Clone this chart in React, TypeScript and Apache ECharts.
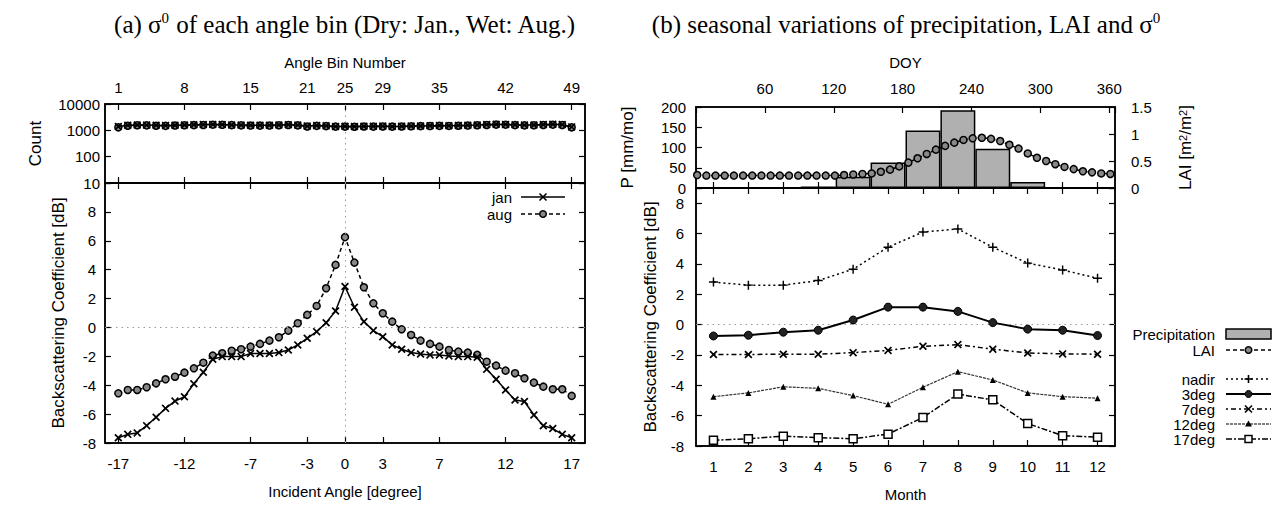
import React, { useEffect, useRef } from "react";
import * as echarts from "echarts";

const SANS = '"Liberation Sans", Arial, Helvetica, sans-serif';
const SERIF = '"Liberation Serif", "Times New Roman", serif';

// ---------- Panel (a) data ----------
const binNumbers = [
  1, 2, 3, 4, 5, 6, 7, 8, 9, 10, 11, 12, 13, 14, 15, 16, 17, 18, 19, 20, 21, 22, 23, 24, 25,
  26, 27, 28, 29, 30, 31, 32, 33, 34, 35, 36, 37, 38, 39, 40, 41, 42, 43, 44, 45, 46, 47, 48, 49,
];
const binTicks = [1, 8, 15, 21, 25, 29, 35, 42, 49];
const angleTickLabels = ["-17", "-12", "-7", "-3", "0", "3", "7", "12", "17"];
const countJan = [
  1400, 1550, 1600, 1580, 1550, 1520, 1560, 1600, 1620, 1650, 1680, 1650, 1600, 1580, 1560, 1550, 1560,
  1600, 1640, 1580, 1450, 1520, 1480, 1400, 1420, 1400, 1430, 1420, 1450, 1400, 1420, 1450, 1470, 1500,
  1520, 1500, 1540, 1560, 1600, 1650, 1700, 1680, 1620, 1580, 1600, 1650, 1700, 1650, 1350,
];
const countAug = [
  1300, 1500, 1560, 1540, 1500, 1480, 1520, 1560, 1580, 1600, 1640, 1620, 1580, 1540, 1520, 1510, 1520,
  1560, 1600, 1540, 1400, 1480, 1450, 1380, 1380, 1370, 1400, 1380, 1400, 1380, 1400, 1420, 1440, 1460,
  1480, 1470, 1500, 1520, 1560, 1600, 1650, 1640, 1580, 1540, 1560, 1600, 1640, 1600, 1300,
];
const sigmaJan = [
  -7.64, -7.4, -7.3, -6.8, -6.22, -5.6, -5.1, -4.8, -3.9, -3.1, -2.2, -2.02, -2.02, -2.02, -1.8, -1.8, -1.8,
  -1.74, -1.56, -1.21, -0.75, -0.29, 0.33, 1.14, 2.83,
  1.4, 0.4, -0.22, -0.64, -1.21, -1.51, -1.74, -1.84, -1.9, -1.9, -1.97, -2.02, -2.02, -2.06, -2.9, -3.59,
  -4.33, -5.02, -5.13, -6.06, -6.81, -7.0, -7.4, -7.64,
];
const sigmaAug = [
  -4.56, -4.33, -4.33, -4.14, -3.87, -3.59, -3.41, -3.13, -2.83, -2.44, -1.95, -1.79, -1.61, -1.51, -1.33,
  -1.14, -0.91, -0.68, -0.22, 0.29, 0.87, 1.49, 2.71, 4.33, 6.25,
  4.49, 2.78, 1.67, 0.98, 0.4, -0.13, -0.52, -0.91, -1.14, -1.33, -1.56, -1.67, -1.74, -1.9, -2.37, -2.64,
  -2.99, -3.17, -3.52, -3.82, -4.1, -4.28, -4.28, -4.74,
];

// ---------- Panel (b) data ----------
const months = ["1", "2", "3", "4", "5", "6", "7", "8", "9", "10", "11", "12"];
const precipitation = [0, 0, 0, 4, 28, 63, 142, 192, 97, 15, 0, 0];
const laiDoy = [
  1, 9, 17, 25, 33, 41, 49, 57, 65, 73, 81, 89, 97, 105, 113, 121, 129, 137, 145, 153, 161, 169, 177, 185,
  193, 201, 209, 217, 225, 233, 241, 249, 257, 265, 273, 281, 289, 297, 305, 313, 321, 329, 337, 345, 353, 361,
];
const laiValues = [
  0.24, 0.23, 0.23, 0.23, 0.23, 0.23, 0.23, 0.23, 0.23, 0.23, 0.23, 0.23, 0.23, 0.23, 0.23, 0.23, 0.24,
  0.25, 0.26, 0.27, 0.3, 0.34, 0.4, 0.47, 0.55, 0.63, 0.71, 0.78, 0.84, 0.89, 0.92, 0.93, 0.91, 0.87, 0.8,
  0.73, 0.64, 0.56, 0.5, 0.44, 0.39, 0.35, 0.31, 0.29, 0.27, 0.26,
];
const sigmaNadir = [2.8, 2.6, 2.6, 2.9, 3.65, 5.1, 6.1, 6.3, 5.1, 4.05, 3.6, 3.05];
const sigma3deg = [-0.75, -0.7, -0.5, -0.37, 0.3, 1.15, 1.15, 0.87, 0.13, -0.3, -0.37, -0.72];
const sigma7deg = [-1.97, -1.97, -1.95, -1.95, -1.85, -1.7, -1.43, -1.32, -1.62, -1.87, -1.93, -1.95];
const sigma12deg = [-4.75, -4.5, -4.1, -4.2, -4.68, -5.25, -4.13, -3.1, -3.65, -4.5, -4.75, -4.85];
const sigma17deg = [-7.62, -7.52, -7.35, -7.45, -7.52, -7.22, -6.12, -4.58, -4.96, -6.52, -7.32, -7.42];

// ---------- styling helpers ----------
const X_MARK = "path://M0,1.5L1.5,0L5,3.5L8.5,0L10,1.5L6.5,5L10,8.5L8.5,10L5,6.5L1.5,10L0,8.5L3.5,5Z";
const PLUS_MARK = "path://M4.2,0H5.8V4.2H10V5.8H5.8V10H4.2V5.8H0V4.2H4.2Z";

const labelStyle = { fontFamily: SANS, fontSize: 15, color: "#000" };
const nameStyle = { fontFamily: SANS, fontSize: 15, color: "#000" };
const vNameStyle = { fontFamily: SANS, fontSize: 17, color: "#000" };
const axisLine = { show: true, onZero: false, lineStyle: { color: "#000", width: 1.5 } };
const tick = (extra: any = {}) => ({ show: true, inside: true, length: 6, lineStyle: { color: "#000", width: 1.2 }, ...extra });

function legendItem(textRight: number, y: number, label: string, x1: number, x2: number, dash: any, lw: number, mk: string): any[] {
  const els: any[] = [
    {
      type: "text",
      x: textRight,
      y,
      style: { text: label, fontFamily: SANS, fontSize: 15, fill: "#000", align: "right", verticalAlign: "middle" },
    },
  ];
  const cx = (x1 + x2) / 2;
  if (mk === "box") {
    els.push({ type: "rect", shape: { x: x1, y: y - 5, width: x2 - x1, height: 10 }, style: { fill: "#b0b0b0", stroke: "#000", lineWidth: 1.5 } });
    return els;
  }
  els.push({ type: "line", shape: { x1, y1: y, x2, y2: y }, style: { stroke: "#000", lineWidth: lw, lineDash: dash } });
  if (mk === "x") {
    els.push({ type: "line", shape: { x1: cx - 3.5, y1: y - 3.5, x2: cx + 3.5, y2: y + 3.5 }, style: { stroke: "#000", lineWidth: 1.6 } });
    els.push({ type: "line", shape: { x1: cx - 3.5, y1: y + 3.5, x2: cx + 3.5, y2: y - 3.5 }, style: { stroke: "#000", lineWidth: 1.6 } });
  } else if (mk === "plus") {
    els.push({ type: "line", shape: { x1: cx - 4, y1: y, x2: cx + 4, y2: y }, style: { stroke: "#000", lineWidth: 1.6 } });
    els.push({ type: "line", shape: { x1: cx, y1: y - 4, x2: cx, y2: y + 4 }, style: { stroke: "#000", lineWidth: 1.6 } });
  } else if (mk === "circle") {
    els.push({ type: "circle", shape: { cx, cy: y, r: 3.3 }, style: { fill: "#888", stroke: "#000", lineWidth: 1.5 } });
  } else if (mk === "dot") {
    els.push({ type: "circle", shape: { cx, cy: y, r: 3.5 }, style: { fill: "#222", stroke: "#000", lineWidth: 1 } });
  } else if (mk === "triangle") {
    els.push({ type: "polygon", shape: { points: [[cx, y - 3.5], [cx + 3.5, y + 2.5], [cx - 3.5, y + 2.5]] }, style: { fill: "#000" } });
  } else if (mk === "square") {
    els.push({ type: "rect", shape: { x: cx - 3.5, y: y - 3.5, width: 7, height: 7 }, style: { fill: "#fff", stroke: "#000", lineWidth: 1.5 } });
  }
  return els;
}

const gridBox = { show: true, borderColor: "#000", borderWidth: 1.5, backgroundColor: "transparent", containLabel: false };

function buildOption(): any {
  const binRange = { min: -0.41, max: 50.41 };
  const angleMap: Record<number, string> = {};
  binTicks.forEach((b, i) => (angleMap[b] = angleTickLabels[i]));

  const dottedMark = (data: any[]) => ({
    silent: true,
    symbol: ["none", "none"],
    label: { show: false },
    lineStyle: { type: [1.5, 4], color: "#999", width: 1 },
    data,
  });

  const xAxis: any[] = [
    // 0: A1 top - bin number
    {
      gridIndex: 0, type: "value", position: "top", ...binRange,
      name: "Angle Bin Number", nameLocation: "middle", nameGap: 34, nameTextStyle: nameStyle,
      axisLine, splitLine: { show: false },
      axisTick: tick({ customValues: binTicks }),
      axisLabel: { ...labelStyle, margin: 9, customValues: binTicks, formatter: (v: number) => String(v) },
    },
    // 1: A1 bottom mirror
    {
      gridIndex: 0, type: "value", position: "bottom", ...binRange,
      axisLine, splitLine: { show: false },
      axisTick: tick({ customValues: binTicks }), axisLabel: { show: false },
    },
    // 2: A2 bottom - incident angle
    {
      gridIndex: 1, type: "value", position: "bottom", ...binRange,
      name: "Incident Angle [degree]", nameLocation: "middle", nameGap: 41, nameTextStyle: nameStyle,
      axisLine, splitLine: { show: false },
      axisTick: tick({ customValues: binTicks }),
      axisLabel: { ...labelStyle, margin: 13, customValues: binTicks, formatter: (v: number) => angleMap[v] ?? "" },
    },
    // 3: A2 top mirror
    {
      gridIndex: 1, type: "value", position: "top", ...binRange,
      axisLine, splitLine: { show: false },
      axisTick: tick({ customValues: binTicks }), axisLabel: { show: false },
    },
    // 4: B1 bottom months (for bars)
    {
      gridIndex: 2, type: "category", position: "bottom", data: months, boundaryGap: true,
      axisLine, axisTick: tick({ alignWithLabel: true }), axisLabel: { show: false }, splitLine: { show: false },
    },
    // 5: B1 top DOY
    {
      gridIndex: 2, type: "value", position: "top", min: 0, max: 365, interval: 60,
      name: "DOY", nameLocation: "middle", nameGap: 37, nameTextStyle: nameStyle,
      axisLine, splitLine: { show: false }, axisTick: tick(),
      axisLabel: { ...labelStyle, margin: 11, formatter: (v: number) => (v === 0 || v > 360 ? "" : String(v)) },
    },
    // 6: B2 bottom months
    {
      gridIndex: 3, type: "category", position: "bottom", data: months, boundaryGap: true,
      name: "Month", nameLocation: "middle", nameGap: 41, nameTextStyle: nameStyle,
      axisLine, axisTick: tick({ alignWithLabel: true }), axisLabel: { ...labelStyle, margin: 13 }, splitLine: { show: false },
    },
    // 7: B2 top mirror
    {
      gridIndex: 3, type: "category", position: "top", data: months, boundaryGap: true,
      axisLine, axisTick: tick({ alignWithLabel: true }), axisLabel: { show: false }, splitLine: { show: false },
    },
  ];

  const yAxis: any[] = [
    // 0: A1 left log count
    {
      gridIndex: 0, type: "log", logBase: 10, min: 10, max: 10000, position: "left",
      name: "Count", nameLocation: "middle", nameRotate: 90, nameGap: 61, nameTextStyle: vNameStyle,
      axisLine, splitLine: { show: false }, axisTick: tick(),
      axisLabel: { ...labelStyle, margin: 5, formatter: (v: number) => String(Math.round(v)) },
    },
    // 1: A1 right mirror
    {
      gridIndex: 0, type: "log", logBase: 10, min: 10, max: 10000, position: "right",
      axisLine, splitLine: { show: false }, axisTick: tick(), axisLabel: { show: false },
    },
    // 2: A2 left sigma
    {
      gridIndex: 1, type: "value", min: -8, max: 10, interval: 2, position: "left",
      name: "Backscattering Coefficient [dB]", nameLocation: "middle", nameRotate: 90, nameGap: 38, nameTextStyle: vNameStyle,
      axisLine, splitLine: { show: false }, axisTick: tick(),
      axisLabel: { ...labelStyle, margin: 9, formatter: (v: number) => (v >= 10 ? "" : String(v)) },
    },
    // 3: A2 right mirror
    {
      gridIndex: 1, type: "value", min: -8, max: 10, interval: 2, position: "right",
      axisLine, splitLine: { show: false }, axisTick: tick(), axisLabel: { show: false },
    },
    // 4: B1 left precipitation
    {
      gridIndex: 2, type: "value", min: 0, max: 200, interval: 50, position: "left",
      name: "P [mm/mo]", nameLocation: "middle", nameRotate: 90, nameGap: 60, nameTextStyle: vNameStyle,
      axisLine, splitLine: { show: false }, axisTick: tick(),
      axisLabel: { ...labelStyle, margin: 10 },
    },
    // 5: B1 right LAI
    {
      gridIndex: 2, type: "value", min: 0, max: 1.5, interval: 0.5, position: "right",
      name: "LAI [m{sup|2}/m{sup|2}]", nameLocation: "middle", nameRotate: 90, nameGap: 62,
      nameTextStyle: { ...vNameStyle, rich: { sup: { fontFamily: SANS, fontSize: 11, verticalAlign: "top", color: "#000" } } },
      axisLine, splitLine: { show: false }, axisTick: tick(),
      axisLabel: { ...labelStyle, margin: 16, formatter: (v: number) => String(v) },
    },
    // 6: B2 left sigma
    {
      gridIndex: 3, type: "value", min: -8, max: 9, interval: 2, position: "left",
      name: "Backscattering Coefficient [dB]", nameLocation: "middle", nameRotate: 90, nameGap: 37, nameTextStyle: vNameStyle,
      axisLine, splitLine: { show: false }, axisTick: tick(),
      axisLabel: { ...labelStyle, margin: 12, formatter: (v: number) => (v > 8 ? "" : String(v)) },
    },
    // 7: B2 right mirror
    {
      gridIndex: 3, type: "value", min: -8, max: 9, interval: 2, position: "right",
      axisLine, splitLine: { show: false }, axisTick: tick(), axisLabel: { show: false },
    },
  ];

  const grid = [
    { ...gridBox, left: 105, top: 104, width: 480, height: 79 },
    { ...gridBox, left: 105, top: 183, width: 480, height: 260 },
    { ...gridBox, left: 696, top: 107, width: 419, height: 81 },
    { ...gridBox, left: 696, top: 188, width: 419, height: 259 },
  ];

  const pair = (xs: number[], ys: number[]) => xs.map((x, i) => [x, ys[i]]);

  const janLine = (xi: number, yi: number, ys: number[], extra: any = {}) => ({
    type: "line", name: "jan", xAxisIndex: xi, yAxisIndex: yi, data: pair(binNumbers, ys),
    symbol: X_MARK, symbolSize: 8, itemStyle: { color: "#000" },
    lineStyle: { color: "#000", width: 1.5, type: "solid" }, z: 5, ...extra,
  });
  const augLine = (xi: number, yi: number, ys: number[], extra: any = {}) => ({
    type: "line", name: "aug", xAxisIndex: xi, yAxisIndex: yi, data: pair(binNumbers, ys),
    symbol: "circle", symbolSize: 7, itemStyle: { color: "#888", borderColor: "#000", borderWidth: 1.5 },
    lineStyle: { color: "#000", width: 1.5, type: [4, 3] }, z: 4, ...extra,
  });

  const series: any[] = [
    augLine(0, 0, countAug, { markLine: dottedMark([{ xAxis: 25 }]) }),
    janLine(0, 0, countJan),
    augLine(2, 2, sigmaAug, { markLine: dottedMark([{ xAxis: 25 }, { yAxis: 0 }]) }),
    janLine(2, 2, sigmaJan),
    {
      type: "bar", name: "Precipitation", xAxisIndex: 4, yAxisIndex: 4, data: precipitation,
      barCategoryGap: "0%", barWidth: "100%",
      itemStyle: { color: "#b0b0b0", borderColor: "#000", borderWidth: 1.5 }, z: 2,
    },
    {
      type: "line", name: "LAI", xAxisIndex: 5, yAxisIndex: 5, data: pair(laiDoy, laiValues),
      symbol: "circle", symbolSize: 7, itemStyle: { color: "#888", borderColor: "#000", borderWidth: 1.5 },
      lineStyle: { color: "#000", width: 1.5, type: [4, 3] }, z: 5,
    },
    {
      type: "line", name: "nadir", xAxisIndex: 6, yAxisIndex: 6, data: sigmaNadir,
      symbol: PLUS_MARK, symbolSize: 9, itemStyle: { color: "#000" },
      lineStyle: { color: "#000", width: 1.5, type: [2, 3] }, z: 5,
      markLine: dottedMark([{ yAxis: 0 }]),
    },
    {
      type: "line", name: "3deg", xAxisIndex: 6, yAxisIndex: 6, data: sigma3deg,
      symbol: "circle", symbolSize: 8, itemStyle: { color: "#222", borderColor: "#000", borderWidth: 1 },
      lineStyle: { color: "#000", width: 2, type: "solid" }, z: 5,
    },
    {
      type: "line", name: "7deg", xAxisIndex: 6, yAxisIndex: 6, data: sigma7deg,
      symbol: X_MARK, symbolSize: 8, itemStyle: { color: "#000" },
      lineStyle: { color: "#000", width: 1.5, type: [2, 3, 5, 3] }, z: 5,
    },
    {
      type: "line", name: "12deg", xAxisIndex: 6, yAxisIndex: 6, data: sigma12deg,
      symbol: "triangle", symbolSize: 6, itemStyle: { color: "#000" },
      lineStyle: { color: "#333", width: 1.2, type: [3, 1] }, z: 5,
    },
    {
      type: "line", name: "17deg", xAxisIndex: 6, yAxisIndex: 6, data: sigma17deg,
      symbol: "rect", symbolSize: 8, itemStyle: { color: "#fff", borderColor: "#000", borderWidth: 1.5 },
      lineStyle: { color: "#000", width: 1.5, type: [6, 2, 2, 2] }, z: 5,
    },
  ];

  const titleRich = {
    sup: { fontFamily: SERIF, fontSize: 15, verticalAlign: "top", lineHeight: 28 },
  };

  const graphic: any[] = [
    {
      type: "text", x: 345, y: 24,
      style: {
        text: "(a) σ{sup|0} of each angle bin (Dry: Jan., Wet: Aug.)",
        rich: titleRich, fontFamily: SERIF, fontSize: 25, lineHeight: 28, fill: "#000",
        align: "center", verticalAlign: "middle",
      },
    },
    {
      type: "text", x: 906, y: 24,
      style: {
        text: "(b) seasonal variations of precipitation, LAI and σ{sup|0}",
        rich: titleRich, fontFamily: SERIF, fontSize: 25, lineHeight: 28, fill: "#000",
        align: "center", verticalAlign: "middle",
      },
    },
    ...legendItem(512, 197, "jan", 521, 565, null, 1.5, "x"),
    ...legendItem(512, 214, "aug", 521, 565, [4, 3], 1.5, "circle"),
    ...legendItem(1215, 334, "Precipitation", 1226, 1271, null, 1.5, "box"),
    ...legendItem(1215, 350, "LAI", 1226, 1271, [4, 3], 1.5, "circle"),
    ...legendItem(1215, 379, "nadir", 1226, 1271, [2, 3], 1.5, "plus"),
    ...legendItem(1215, 394, "3deg", 1226, 1271, null, 2, "dot"),
    ...legendItem(1215, 409, "7deg", 1226, 1271, [2, 3, 5, 3], 1.5, "x"),
    ...legendItem(1215, 424, "12deg", 1226, 1271, [3, 1], 1.2, "triangle"),
    ...legendItem(1215, 439, "17deg", 1226, 1271, [6, 2, 2, 2], 1.5, "square"),
  ];

  return {
    animation: false,
    backgroundColor: "#fff",
    textStyle: { fontFamily: SANS },
    grid,
    xAxis,
    yAxis,
    series,
    graphic,
  };
}

export default function App() {
  const ref = useRef<HTMLDivElement>(null);
  useEffect(() => {
    if (!ref.current) return;
    const chart = echarts.init(ref.current, undefined, { renderer: "svg" });
    chart.setOption(buildOption());
    return () => chart.dispose();
  }, []);
  return (
    <div
      ref={ref}
      style={{ position: "absolute", left: 0, top: 0, width: 1280, height: 507, background: "#fff" }}
    />
  );
}
